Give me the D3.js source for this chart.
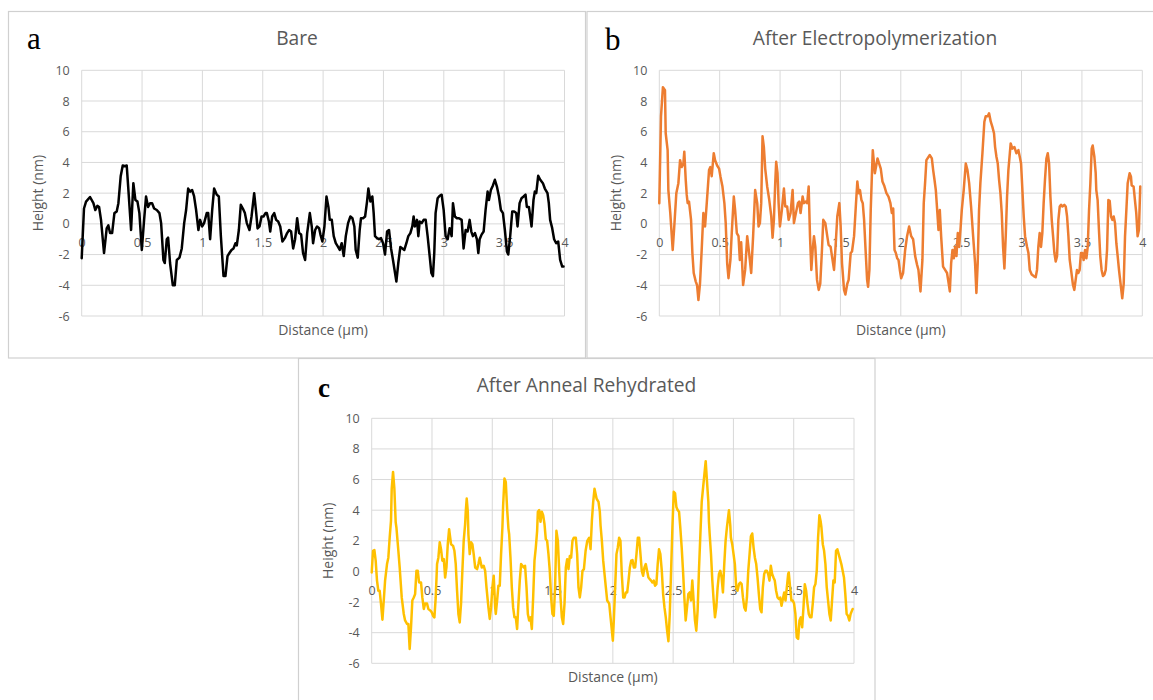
<!DOCTYPE html>
<html>
<head>
<meta charset="utf-8">
<script src="https://cdn.jsdelivr.net/npm/d3@7"></script>
<style>
  html, body { margin: 0; padding: 0; background: #ffffff; }
  svg { display: block; }
</style>
</head>
<body>
<svg id="chart" width="1153" height="700"></svg>
<script>
// ---- Axis ticks and labels ----
const xTicks = [0, 0.5, 1, 1.5, 2, 2.5, 3, 3.5, 4];
const yTicks = [-6, -4, -2, 0, 2, 4, 6, 8, 10];
const panelLetters = ["a", "b", "c"];
const panelTitles = ["Bare", "After Electropolymerization", "After Anneal Rehydrated"];
const xAxisTitle = "Distance (\u00b5m)";
const yAxisTitle = "Height (nm)";

// ---- Height profiles (distance in µm, height in nm) ----
const bareDist = [
  0, 0.019, 0.036, 0.069, 0.097, 0.113, 0.130, 0.144, 0.160, 0.185,
  0.207, 0.221, 0.235, 0.252, 0.271, 0.290, 0.304, 0.323, 0.340, 0.357,
  0.373, 0.387, 0.409, 0.428, 0.445, 0.462, 0.478, 0.498, 0.517, 0.533,
  0.550, 0.567, 0.583, 0.600, 0.622, 0.644, 0.658, 0.677, 0.688, 0.705,
  0.716, 0.732, 0.755, 0.771, 0.788, 0.810, 0.829, 0.849, 0.865, 0.882,
  0.898, 0.915, 0.931, 0.948, 0.967, 0.981, 0.998, 1.014, 1.036, 1.048,
  1.064, 1.081, 1.097, 1.119, 1.136, 1.153, 1.175, 1.191, 1.208, 1.224,
  1.241, 1.258, 1.274, 1.285, 1.302, 1.318, 1.335, 1.352, 1.368, 1.390,
  1.407, 1.429, 1.446, 1.457, 1.473, 1.490, 1.506, 1.523, 1.534, 1.551,
  1.562, 1.578, 1.595, 1.611, 1.628, 1.645, 1.663, 1.683, 1.702, 1.719,
  1.735, 1.752, 1.768, 1.785, 1.801, 1.818, 1.834, 1.851, 1.868, 1.890,
  1.906, 1.917, 1.934, 1.950, 1.967, 1.978, 1.994, 2.011, 2.028, 2.044,
  2.055, 2.072, 2.088, 2.105, 2.124, 2.138, 2.154, 2.171, 2.188, 2.207,
  2.226, 2.243, 2.259, 2.270, 2.287, 2.303, 2.314, 2.331, 2.348, 2.364,
  2.375, 2.392, 2.408, 2.419, 2.430, 2.447, 2.463, 2.480, 2.497, 2.513,
  2.530, 2.546, 2.563, 2.579, 2.596, 2.607, 2.623, 2.640, 2.657, 2.673,
  2.690, 2.706, 2.723, 2.739, 2.750, 2.761, 2.778, 2.789, 2.800, 2.817,
  2.833, 2.850, 2.866, 2.883, 2.897, 2.910, 2.921, 2.932, 2.949, 2.966,
  2.982, 2.999, 3.015, 3.032, 3.048, 3.065, 3.076, 3.092, 3.109, 3.126,
  3.148, 3.164, 3.181, 3.197, 3.214, 3.228, 3.241, 3.258, 3.274, 3.286,
  3.297, 3.313, 3.330, 3.346, 3.363, 3.374, 3.390, 3.407, 3.423, 3.440,
  3.457, 3.473, 3.490, 3.506, 3.523, 3.534, 3.550, 3.567, 3.583, 3.600,
  3.611, 3.628, 3.644, 3.661, 3.677, 3.688, 3.705, 3.716, 3.727, 3.743,
  3.754, 3.766, 3.782, 3.799, 3.821, 3.837, 3.859, 3.870, 3.881, 3.898,
  3.914, 3.931, 3.948, 3.964, 3.981, 3.992
];
const bareHeight = [
  -2.24, 1.0, 1.45, 1.75, 1.35, 0.9, 1.17, 1.1, 0.26, -1.9,
  -0.3, -0.1, -0.6, -0.6, 0.7, 0.8, 1.35, 3.1, 3.8, 3.75,
  3.8, 2.2, -0.4, 2.65, 1.55, 1.45, 0.7, -1.7, 0.26, 1.78,
  1.1, 1.35, 1.35, 1.0, 0.9, 0.7, 0.05, -2.35, -2.55, -1.0,
  -0.9, -2.55, -4.0, -4.0, -2.35, -2.2, -1.6, 0.05, 0.9, 2.3,
  2.1, 2.2, 1.8, 0.9, -0.4, 0.26, -0.17, 0.05, 0.7, 0.7,
  -1.0, 0.9, 2.3, 1.9, 1.78, -0.8, -3.4, -3.4, -2.1, -1.9,
  -1.7, -1.6, -1.26, -1.4, -0.4, 1.24, 1.0, 0.7, 0.05, -0.4,
  0.48, 2.0, 0.7, -0.3, -0.17, 0.48, 0.48, 0.7, 0.7, 0.15,
  -0.5, 0.48, 0.7, 0.26, 0.15, -0.17, -1.15, -0.93, -0.6, -0.4,
  -0.5, -1.6, -1.0, 0.37, -0.6, -0.7, -1.9, -2.35, -0.6, 0.7,
  -0.17, -1.26, -0.4, -0.17, -0.28, -0.7, -1.15, -0.17, 1.78, 1.1,
  0.26, 0.26, -0.8, -1.26, -1.5, -1.7, -1.26, -2.1, -0.8, 0.05,
  0.48, 0.37, -0.17, -1.7, -2.2, -0.4, 0.37, 0.37, 0.48, 1.45,
  2.3, 1.45, 1.78, 0.7, -0.8, -0.93, -1.0, -0.93, -1.26, -2.0,
  -0.5, -0.4, -1.6, -2.35, -3.2, -3.76, -2.55, -1.5, -1.6, -1.7,
  -1.26, -0.8, -0.6, -0.17, 0.48, -0.17, 0.26, -0.8, 0.15, 0.05,
  0.26, 0.26, -0.8, -2.1, -3.2, -3.4, -1.9, 0.7, 1.67, 1.83,
  1.9, 0.9, -0.8, -1.0, -0.28, -0.8, 1.35, 0.48, 0.37, 0.37,
  0.26, -1.6, -0.4, -0.5, 0.26, -0.5, -0.8, -0.6, -1.0, -1.9,
  -1.0, -0.7, -0.5, 0.9, 2.1, 1.55, 2.2, 2.5, 2.87, 2.43,
  1.78, 0.9, 0.7, -0.4, -1.8, -2.0, -0.8, 0.8, 0.8, 0.7,
  -0.17, 1.35, 1.67, 1.78, 1.9, 1.1, 1.1, 0.48, -0.17, 1.55,
  2.1, 2.0, 3.13, 2.87, 2.65, 2.3, 2.0, 1.35, 0.26, -0.28,
  -1.0, -1.26, -1.15, -2.35, -2.78, -2.78
];

const polyDist = [
  0.000, 0.014, 0.030, 0.047, 0.053, 0.069, 0.075, 0.091, 0.111, 0.124,
  0.141, 0.158, 0.172, 0.185, 0.199, 0.207, 0.219, 0.227, 0.235, 0.246,
  0.263, 0.274, 0.285, 0.302, 0.313, 0.324, 0.337, 0.351, 0.365, 0.379,
  0.393, 0.412, 0.423, 0.434, 0.451, 0.462, 0.479, 0.495, 0.506, 0.523,
  0.539, 0.550, 0.562, 0.573, 0.589, 0.600, 0.617, 0.628, 0.642, 0.656,
  0.667, 0.678, 0.694, 0.711, 0.728, 0.744, 0.761, 0.777, 0.794, 0.811,
  0.822, 0.833, 0.844, 0.855, 0.866, 0.877, 0.894, 0.910, 0.927, 0.938,
  0.949, 0.960, 0.968, 0.979, 0.988, 0.999, 1.015, 1.032, 1.043, 1.059,
  1.071, 1.087, 1.104, 1.115, 1.131, 1.148, 1.159, 1.170, 1.187, 1.198,
  1.214, 1.225, 1.237, 1.248, 1.259, 1.270, 1.281, 1.292, 1.306, 1.320,
  1.333, 1.347, 1.358, 1.375, 1.391, 1.402, 1.419, 1.430, 1.447, 1.458,
  1.474, 1.491, 1.502, 1.513, 1.530, 1.541, 1.557, 1.568, 1.585, 1.596,
  1.613, 1.629, 1.640, 1.651, 1.662, 1.674, 1.685, 1.696, 1.707, 1.721,
  1.729, 1.740, 1.751, 1.762, 1.768, 1.785, 1.807, 1.834, 1.848, 1.862,
  1.881, 1.898, 1.914, 1.926, 1.937, 1.948, 1.959, 1.970, 1.981, 1.992,
  2.003, 2.019, 2.036, 2.052, 2.069, 2.086, 2.102, 2.119, 2.135, 2.146,
  2.163, 2.179, 2.190, 2.201, 2.212, 2.240, 2.257, 2.268, 2.279, 2.290,
  2.303, 2.312, 2.323, 2.334, 2.350, 2.367, 2.383, 2.394, 2.406, 2.417,
  2.428, 2.439, 2.450, 2.461, 2.472, 2.483, 2.494, 2.505, 2.521, 2.538,
  2.552, 2.566, 2.582, 2.599, 2.615, 2.626, 2.637, 2.648, 2.659, 2.676,
  2.692, 2.703, 2.720, 2.731, 2.745, 2.759, 2.772, 2.781, 2.792, 2.803,
  2.814, 2.825, 2.836, 2.847, 2.858, 2.869, 2.880, 2.891, 2.910, 2.924,
  2.941, 2.957, 2.974, 2.985, 2.996, 3.007, 3.018, 3.029, 3.046, 3.057,
  3.068, 3.084, 3.101, 3.117, 3.128, 3.139, 3.150, 3.161, 3.172, 3.183,
  3.194, 3.206, 3.217, 3.228, 3.239, 3.250, 3.261, 3.272, 3.283, 3.294,
  3.305, 3.316, 3.327, 3.338, 3.354, 3.366, 3.377, 3.388, 3.399, 3.410,
  3.426, 3.437, 3.448, 3.459, 3.470, 3.481, 3.492, 3.503, 3.514, 3.526,
  3.537, 3.548, 3.559, 3.570, 3.581, 3.589, 3.603, 3.614, 3.619, 3.630,
  3.641, 3.652, 3.663, 3.674, 3.686, 3.697, 3.708, 3.719, 3.730, 3.741,
  3.752, 3.763, 3.774, 3.785, 3.796, 3.807, 3.823, 3.834, 3.846, 3.857,
  3.868, 3.879, 3.895, 3.906, 3.912, 3.928, 3.939, 3.950, 3.961, 3.972,
  3.983
];
const polyHeight = [
  1.35, 7.0, 8.9, 8.7, 5.9, 4.8, 2.2, 0.7, -1.7, -0.17,
  2.0, 2.65, 4.15, 3.7, 3.9, 4.7, 2.85, 1.9, 1.35, 1.45,
  0.26, -1.9, -3.2, -3.76, -4.0, -4.96, -3.9, -1.7, 0.7, -0.17,
  1.35, 3.5, 3.7, 3.1, 4.6, 4.15, 3.8, 3.6, 3.1, 2.43,
  1.35, 0.05, -2.55, -3.54, -2.35, -0.6, 1.78, 0.9, -0.6, -0.8,
  -2.35, -1.2, -3.98, -3.0, -0.8, -1.9, -3.2, -0.8, 2.2, 1.35,
  -0.17, 0.05, 1.35, 5.7, 5.0, 3.6, 2.4, 1.6, 0.5, -0.9,
  0.26, 2.65, 4.04, 3.3, 1.35, -0.17, 0.9, 2.3, 1.13, 1.13,
  0.26, 0.7, 2.2, 0.05, 0.7, 1.35, 1.45, 0.7, 1.78, 1.35,
  1.45, 1.35, 2.43, -0.8, -3.0, -1.7, -0.8, -1.5, -3.65, -4.3,
  -3.9, -1.7, 0.26, 0.05, -0.8, -1.37, -1.5, -2.1, -3.0, -1.7,
  0.48, 1.35, -0.17, -2.55, -4.3, -4.6, -3.9, -3.65, -1.9, -1.8,
  -0.8, 1.35, 2.76, 2.0, 2.2, 1.55, 1.35, 0.26, -1.5, -3.65,
  -4.1, -3.0, 0.9, 3.5, 4.8, 3.3, 4.26, 3.6, 2.76, 2.5,
  2.0, 1.78, 1.35, 0.7, 1.0, -1.7, -1.9, -2.24, -2.35, -3.0,
  -3.54, -3.2, -1.7, -0.8, -0.17, -0.8, -1.0, -2.1, -2.67, -3.0,
  -4.4, -2.35, 1.35, 2.65, 4.15, 4.48, 4.26, 3.5, 2.87, 2.2,
  0.7, -0.4, 0.9, -0.8, -2.78, -3.0, -3.2, -3.76, -4.4, -2.55,
  -1.7, -2.24, -1.5, -2.1, -0.6, -1.5, -0.4, 0.9, 2.2, 3.93,
  3.5, 2.65, 1.13, -0.8, -2.55, -4.5, -2.55, 0.9, 2.65, 4.6,
  6.65, 7.0, 7.0, 7.2, 6.65, 6.3, 5.9, 5.0, 4.37, 3.93,
  2.87, 2.0, 0.7, -1.5, -2.9, -0.8, 1.78, 3.5, 5.24, 4.9,
  5.0, 4.6, 4.8, 4.37, 3.93, 2.2, 0.48, -0.8, -1.5, -1.9,
  -3.0, -3.3, -3.4, -3.48, -3.0, -1.5, -0.6, -1.5, -0.6, 1.35,
  2.87, 4.26, 4.6, 3.93, 1.78, 0.26, -0.8, -1.9, -2.45, -2.1,
  0.26, 1.13, 1.24, 1.13, 1.24, 1.13, 0.48, -0.8, -2.35, -3.0,
  -3.98, -4.3, -3.65, -3.0, -3.2, -3.0, -1.9, -1.9, -2.35, -1.7,
  -2.24, -1.5, 0.9, 2.65, 4.9, 5.1, 4.37, 3.3, 2.2, 1.55,
  -0.4, -2.1, -3.0, -3.4, -3.3, -3.0, -1.7, 1.55, 1.5, 0.48,
  0.26, 0.48, 0.05, -1.26, -2.1, -3.0, -4.1, -4.85, -3.9, -0.8,
  0.9, 2.65, 3.3, 3.07, 2.5, 2.43, 1.55, 0.7, -0.8, -0.4,
  2.43
];

const annealDist = [
  0.000, 0.011, 0.022, 0.033, 0.044, 0.055, 0.066, 0.077, 0.089, 0.100,
  0.111, 0.127, 0.138, 0.149, 0.160, 0.166, 0.177, 0.188, 0.199, 0.205,
  0.221, 0.232, 0.249, 0.266, 0.277, 0.293, 0.304, 0.315, 0.326, 0.337,
  0.349, 0.360, 0.371, 0.382, 0.393, 0.409, 0.420, 0.432, 0.443, 0.459,
  0.470, 0.487, 0.498, 0.509, 0.520, 0.531, 0.542, 0.553, 0.564, 0.575,
  0.586, 0.598, 0.609, 0.620, 0.631, 0.642, 0.658, 0.675, 0.686, 0.697,
  0.708, 0.719, 0.730, 0.741, 0.752, 0.763, 0.775, 0.780, 0.788, 0.797,
  0.802, 0.813, 0.824, 0.835, 0.846, 0.858, 0.874, 0.885, 0.896, 0.913,
  0.929, 0.941, 0.952, 0.968, 0.979, 0.990, 1.001, 1.012, 1.024, 1.029,
  1.040, 1.051, 1.062, 1.073, 1.084, 1.090, 1.101, 1.112, 1.123, 1.134,
  1.140, 1.151, 1.162, 1.173, 1.184, 1.195, 1.206, 1.217, 1.228, 1.239,
  1.250, 1.261, 1.272, 1.284, 1.295, 1.306, 1.317, 1.328, 1.339, 1.350,
  1.361, 1.372, 1.378, 1.389, 1.400, 1.411, 1.422, 1.433, 1.444, 1.455,
  1.466, 1.477, 1.488, 1.499, 1.510, 1.521, 1.532, 1.544, 1.555, 1.566,
  1.577, 1.588, 1.599, 1.610, 1.621, 1.632, 1.643, 1.654, 1.665, 1.676,
  1.693, 1.704, 1.715, 1.726, 1.737, 1.748, 1.760, 1.774, 1.788, 1.804,
  1.815, 1.826, 1.837, 1.848, 1.865, 1.881, 1.892, 1.898, 1.909, 1.920,
  1.931, 1.942, 1.953, 1.970, 1.981, 1.992, 2.000, 2.008, 2.019, 2.030,
  2.041, 2.052, 2.063, 2.074, 2.086, 2.097, 2.108, 2.119, 2.130, 2.141,
  2.152, 2.163, 2.174, 2.185, 2.196, 2.207, 2.218, 2.229, 2.240, 2.251,
  2.262, 2.273, 2.284, 2.295, 2.306, 2.317, 2.328, 2.339, 2.350, 2.361,
  2.372, 2.383, 2.394, 2.406, 2.417, 2.428, 2.439, 2.450, 2.461, 2.472,
  2.483, 2.494, 2.505, 2.516, 2.527, 2.538, 2.549, 2.560, 2.571, 2.582,
  2.593, 2.604, 2.615, 2.626, 2.637, 2.648, 2.659, 2.670, 2.681, 2.692,
  2.703, 2.714, 2.726, 2.737, 2.753, 2.770, 2.781, 2.792, 2.797, 2.803,
  2.814, 2.825, 2.836, 2.847, 2.858, 2.869, 2.880, 2.891, 2.902, 2.913,
  2.924, 2.935, 2.946, 2.963, 2.974, 2.979, 2.990, 3.001, 3.012, 3.023,
  3.034, 3.046, 3.057, 3.068, 3.079, 3.090, 3.101, 3.112, 3.123, 3.134,
  3.145, 3.156, 3.167, 3.178, 3.189, 3.200, 3.211, 3.222, 3.233, 3.244,
  3.255, 3.266, 3.277, 3.288, 3.299, 3.310, 3.321, 3.332, 3.343, 3.354,
  3.366, 3.377, 3.388, 3.399, 3.410, 3.421, 3.432, 3.443, 3.454, 3.459,
  3.470, 3.481, 3.492, 3.503, 3.514, 3.525, 3.537, 3.548, 3.559, 3.570,
  3.581, 3.592, 3.603, 3.614, 3.625, 3.636, 3.647, 3.658, 3.669, 3.680,
  3.691, 3.702, 3.713, 3.724, 3.730, 3.741, 3.752, 3.763, 3.774, 3.785,
  3.796, 3.807, 3.818, 3.829, 3.840, 3.851, 3.862, 3.873, 3.884, 3.895,
  3.906, 3.917, 3.928, 3.939, 3.950, 3.961, 3.972, 3.983, 3.989
];
const annealHeight = [
  -0.07, 1.35, 1.4, 0.7, -0.6, -1.26, -1.26, -2.1, -3.15, -1.9,
  -0.6, 0.48, 0.9, 2.2, 3.3, 5.4, 6.5, 5.4, 3.2, 2.87,
  1.35, 0.26, -1.7, -2.78, -3.2, -3.43, -3.43, -5.06, -3.65, -1.9,
  -1.7, -1.48, 0.04, 0.04, -0.72, -0.72, -1.7, -2.45, -2.1, -2.1,
  -2.45, -2.56, -2.67, -2.9, -3.0, -1.7, 0.48, 0.9, 1.9, 1.45,
  0.7, 0.8, -0.4, 0.26, 1.78, 2.76, 1.78, 1.67, 1.35, 0.48,
  -1.26, -2.78, -3.33, -2.1, 0.04, 2.0, 3.1, 3.9, 4.76, 3.9,
  2.43, 1.13, 1.9, 1.78, 1.13, 0.26, 0.15, 0.48, 0.9, 0.26,
  0.37, 0.04, -1.04, -2.35, -3.1, -2.35, -1.04, -0.28, -2.35, -2.78,
  -1.9, -0.93, -0.93, 1.13, 2.87, 4.3, 6.07, 5.85, 4.1, 2.8,
  2.43, 0.9, -1.04, -2.35, -3.0, -3.0, -3.76, -2.1, -0.6, 0.48,
  0.37, 0.26, 0.37, -1.04, -2.78, -3.2, -3.0, -3.76, -1.7, 0.7,
  1.56, 2.65, 3.9, 4.0, 3.24, 3.9, 3.67, 3.1, 2.1, 2.0,
  1.13, 0.04, -1.7, -2.78, -2.9, -1.04, 2.65, 2.0, 0.04, -1.7,
  -3.0, -3.43, -2.1, 0.26, 0.8, 0.15, 1.0, 0.9, 2.0, 2.2,
  2.2, 1.13, -1.04, -1.7, -1.04, 0.04, 0.15, 1.35, 2.0, 2.2,
  1.45, 3.3, 4.54, 5.4, 4.76, 4.54, 3.9, 3.0, 2.0, 0.7,
  -0.17, -1.04, -1.9, -2.1, -3.0, -3.87, -4.52, -3.2, -1.04, 1.13,
  1.56, 2.2, 2.0, -0.17, -1.7, -1.7, -1.37, -1.37, -0.6, 0.26,
  0.7, 0.74, 0.26, 0.26, 1.13, 2.2, 2.2, 1.13, 0.04, -0.28,
  0.26, 0.48, 0.04, -0.4, -0.5, -0.6, -0.72, -0.6, -0.93, -0.83,
  0.48, 1.45, 1.13, 0.04, -1.48, -2.35, -3.0, -3.87, -4.56, -2.78,
  0.04, 2.87, 5.2, 5.1, 4.2, 4.0, 3.9, 2.8, 1.56, 0.04,
  -1.7, -3.2, -2.35, -1.48, -1.37, -1.9, -0.6, -1.9, -3.2, -3.87,
  -2.56, 0.04, 2.43, 4.54, 5.85, 7.2, 5.85, 4.54, 3.24, 2.43,
  1.13, -0.6, -1.9, -3.0, -2.35, -1.04, -0.17, 0.04, -0.4, -1.37,
  0.48, 2.0, 2.87, 4.0, 3.0, 2.2, 1.78, 1.13, 0.48, -1.04,
  -1.26, -0.83, -0.72, -0.83, -1.7, -2.35, -2.56, -1.7, 0.04, 1.13,
  2.3, 2.48, 1.56, 0.9, 0.48, -0.4, -1.48, -2.45, -2.67, -1.04,
  -0.17, 0.04, 0.04, -0.17, -0.6, 0.37, -0.17, -0.4, -0.6, -1.26,
  -1.7, -1.8, -1.7, -2.24, -1.8, -1.37, -1.9, -1.04, -0.17, -0.07,
  -1.04, -1.9, -1.9, -2.1, -2.78, -4.3, -4.4, -3.2, -3.0, -3.65,
  -2.35, -0.83, -1.26, -2.1, -2.78, -3.0, -3.0, -2.1, -1.04, -0.83,
  0.04, 2.2, 3.67, 3.24, 2.87, 1.78, 1.35, 0.48, -1.04, -1.9,
  -2.78, -3.2, -1.9, -0.6, -0.72, 1.35, 1.45, 1.13, 0.8, 0.48,
  0.04, -0.4, -1.48, -2.78, -2.9, -3.2, -2.78, -2.56, -2.45
];

// ---- Panel geometry ----
const panels = [
  { frame: [8.5, 11.5, 577, 346.5], plot: { left: 81.7, right: 564.5, top: 70.3, bottom: 316 },
    letterPos: [27, 49], titleX: 297, titleY: 45, yTitleX: 43, xTitleY: 334.5,
    dist: bareDist, height: bareHeight, color: "#000000" },
  { frame: [587, 11.5, 600, 346.5], plot: { left: 659.3, right: 1142.3, top: 70.3, bottom: 316 },
    letterPos: [605, 50], titleX: 875, titleY: 45, yTitleX: 621, xTitleY: 334.5,
    dist: polyDist, height: polyHeight, color: "#ED7D31" },
  { frame: [298.5, 358.5, 576.5, 380], plot: { left: 371.7, right: 854, top: 418.3, bottom: 663.3 },
    letterPos: [318, 397], titleX: 586.5, titleY: 391.5, yTitleX: 333, xTitleY: 681.5,
    dist: annealDist, height: annealHeight, color: "#FFC000" }
];

const sansFont = "'Open Sans', 'Noto Sans', sans-serif";
const serifFont = "'Liberation Serif', 'DejaVu Serif', serif";
const textGray = "#595959";
const gridGray = "#d9d9d9";

const svg = d3.select("#chart");
svg.append("rect").attr("width", 1153).attr("height", 700).attr("fill", "#ffffff");

panels.forEach((p, idx) => {
  const g = svg.append("g");
  const [fx, fy, fw, fh] = p.frame;
  const pl = p.plot;

  // Chart frame
  g.append("rect")
    .attr("x", fx).attr("y", fy).attr("width", fw).attr("height", fh)
    .attr("fill", "#ffffff").attr("stroke", "#d0d0d0").attr("stroke-width", 1.2);

  const x = d3.scaleLinear().domain([0, 4]).range([pl.left, pl.right]);
  const y = d3.scaleLinear().domain([-6, 10]).range([pl.bottom, pl.top]);

  // Gridlines
  g.append("g").selectAll("line").data(yTicks).join("line")
    .attr("x1", pl.left).attr("x2", pl.right)
    .attr("y1", d => y(d)).attr("y2", d => y(d))
    .attr("stroke", gridGray).attr("stroke-width", 1);
  g.append("g").selectAll("line").data(xTicks).join("line")
    .attr("x1", d => x(d)).attr("x2", d => x(d))
    .attr("y1", pl.top).attr("y2", pl.bottom)
    .attr("stroke", gridGray).attr("stroke-width", 1);

  // Y axis tick labels
  const yAxis = d3.axisLeft(y).tickValues(yTicks).tickSize(0).tickPadding(12)
    .tickFormat(d => String(d));
  const yg = g.append("g").attr("transform", `translate(${pl.left},0)`).call(yAxis);
  yg.select(".domain").remove();
  yg.selectAll("text").attr("fill", textGray).attr("font-size", 12.5).attr("font-family", sansFont);

  // X axis tick labels sit just below the zero line
  const xAxis = d3.axisBottom(x).tickValues(xTicks).tickSize(0).tickPadding(14.5)
    .tickFormat(d => String(d));
  const xg = g.append("g").attr("transform", `translate(0,${y(0)})`).call(xAxis);
  xg.select(".domain").remove();
  xg.selectAll("text").attr("fill", textGray).attr("font-size", 12.5).attr("font-family", sansFont);

  // Profile line
  const n = Math.min(p.dist.length, p.height.length);
  const line = d3.line()
    .x(i => x(p.dist[i]))
    .y(i => y(p.height[i]));
  g.append("path")
    .attr("d", line(d3.range(n)))
    .attr("fill", "none")
    .attr("stroke", p.color)
    .attr("stroke-width", 2.5)
    .attr("stroke-linejoin", "round")
    .attr("stroke-linecap", "round");

  // Chart title
  g.append("text")
    .attr("x", p.titleX)
    .attr("y", p.titleY)
    .attr("text-anchor", "middle")
    .attr("fill", textGray)
    .attr("font-family", sansFont)
    .attr("font-size", 19.2)
    .text(panelTitles[idx]);

  // Axis titles
  g.append("text")
    .attr("transform", `translate(${p.yTitleX},${(pl.top + pl.bottom) / 2}) rotate(-90)`)
    .attr("text-anchor", "middle")
    .attr("fill", textGray)
    .attr("font-family", sansFont)
    .attr("font-size", 14)
    .text(yAxisTitle);

  g.append("text")
    .attr("x", (pl.left + pl.right) / 2)
    .attr("y", p.xTitleY)
    .attr("text-anchor", "middle")
    .attr("fill", textGray)
    .attr("font-family", sansFont)
    .attr("font-size", 14)
    .text(xAxisTitle);

  // Panel letter
  g.append("text")
    .attr("x", p.letterPos[0]).attr("y", p.letterPos[1])
    .attr("fill", "#000000")
    .attr("font-family", serifFont)
    .attr("font-size", idx === 2 ? 27 : 31)
    .attr("font-weight", idx === 2 ? "bold" : "normal")
    .text(panelLetters[idx]);
});
</script>
</body>
</html>
